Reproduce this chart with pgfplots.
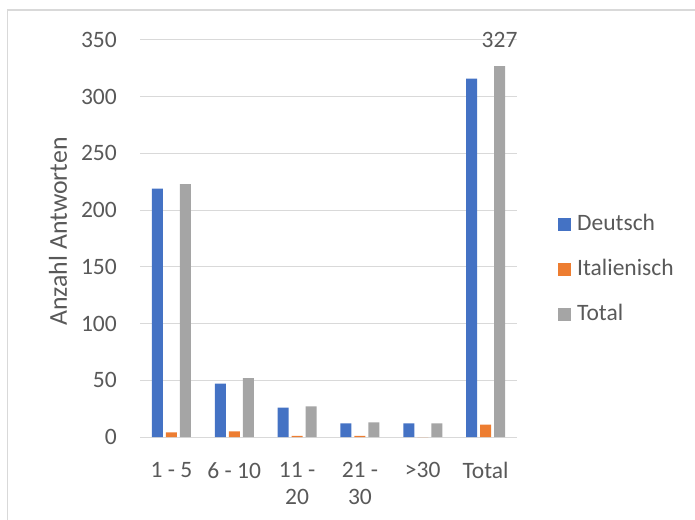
\documentclass[border=0pt]{standalone}
\usepackage{fontspec}
\setmainfont{Carlito}
\usepackage{pgfplots}
\usepackage{pgfplotstable}
\pgfplotsset{compat=1.18}

\definecolor{cBlue}{HTML}{4472C4}
\definecolor{cOrange}{HTML}{ED7D31}
\definecolor{cGray}{HTML}{A5A5A5}
\definecolor{cText}{HTML}{595959}
\definecolor{cGrid}{HTML}{D9D9D9}

\newcommand{\chartfont}{\fontsize{23.5}{27}\selectfont}
\newcommand{\titlefont}{\fontsize{25.8}{30}\selectfont}

% Anzahl Antworten je Gruppe (0 = 1-5, ..., 5 = Total)
\pgfplotstableread{
cat de it tot
0 219 4 223
1 47 5 52
2 26 1 27
3 12 1 13
4 12 0 12
5 316 11 327
}\antworten

\begin{document}
\begin{tikzpicture}
\useasboundingbox (0pt,0pt) rectangle (695pt,519pt);
\draw[cGrid, line width=1.2pt] (7.5pt,-5pt) -- (7.5pt,509pt) -- (700pt,509pt);
\begin{axis}[
  at={(140pt,82pt)}, anchor=south west,
  scale only axis, width=377pt, height=397pt,
  clip=false,
  ybar=3pt, bar width=11pt,
  xmin=-0.5, xmax=5.5, ymin=0, ymax=350,
  xtick={0,...,5},
  xticklabels={{1 - 5},{6 - 10},{11 -\\20},{21 -\\30},{>30},{Total}},
  ytick={0,50,...,350},
  ymajorgrids, major grid style={cGrid, line width=1pt},
  axis line style={draw=none}, major tick length=0pt,
  /pgf/number format/assume math mode=true,
  tick label style={font=\chartfont, text=cText},
  yticklabel style={inner sep=0pt, xshift=-23pt},
  xticklabel style={align=center, inner sep=0pt, yshift=-25pt},
  ylabel={Anzahl Antworten},
  label style={font=\titlefont, text=cText},
  ylabel style={at={(axis description cs:-0.2175,0.5176)}, anchor=center},
  legend image code/.code={\fill[#1] (0pt,-0.5pt) rectangle (13pt,12.5pt);},
  legend style={at={(axis description cs:1.1088,0.4207)}, anchor=west,
    draw=none, fill=none, inner sep=0pt, row sep=23pt,
    font=\chartfont, text=cText,
    cells={anchor=base west},
    nodes={inner sep=0pt, text height=17pt, text depth=5pt},
    /tikz/every odd column/.append style={column sep=6pt}},
]
\addplot[fill=cBlue, draw=none] table[x=cat, y=de] {\antworten};
\addlegendentry{Deutsch}
\addplot[fill=cOrange, draw=none] table[x=cat, y=it] {\antworten};
\addlegendentry{Italienisch}
\addplot[fill=cGray, draw=none] table[x=cat, y=tot] {\antworten};
\addlegendentry{Total}
\node[font=\chartfont, text=cText, anchor=base, inner sep=0pt]
  at (axis cs:5,327) [xshift=14pt, yshift=19pt] {327};
\end{axis}
\end{tikzpicture}
\end{document}
